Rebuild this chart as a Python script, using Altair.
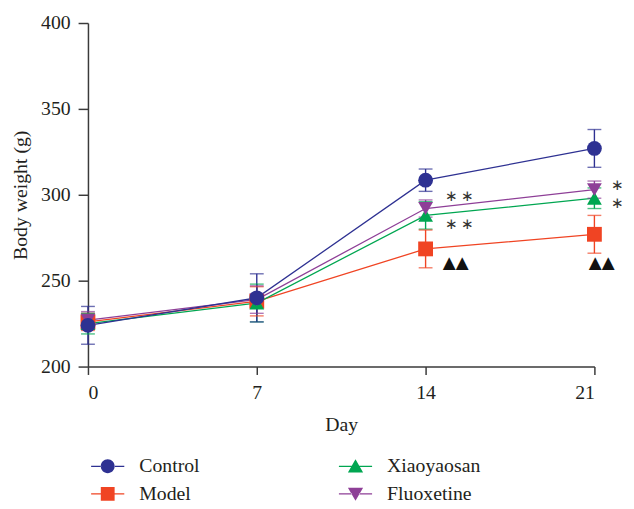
import altair as alt
import pandas as pd

days = [0, 7, 14, 21]

control_mean = [224, 240, 308.5, 327]
control_sd = [11, 14, 6.5, 11]
model_mean = [226, 238, 268.5, 277]
model_sd = [5, 8.5, 11, 11]
xiao_mean = [225, 237, 288, 298]
xiao_sd = [6, 11, 8, 6]
fluox_mean = [227, 239, 292, 303]
fluox_sd = [5, 8, 5, 5]

legend_order = ["Control", "Model", "Xiaoyaosan", "Fluoxetine"]
colors = ["#2e3192", "#f04423", "#00a651", "#8e3f97"]
shapes = ["circle", "square", "triangle-up", "triangle-down"]
SEG = "M-2.4,-0.09H{a}V0.09H-2.4Z M{b},-0.09H2.4V0.09H{b}Z "
legend_paths = [
    SEG.format(a=-0.95, b=0.95) + "M-1,0A1,1 0 1,0 1,0A1,1 0 1,0 -1,0Z",
    SEG.format(a=-0.95, b=0.95) + "M-1,-1H1V1H-1Z",
    SEG.format(a=-0.5, b=0.5) + "M0,-1L1.1,0.9L-1.1,0.9Z",
    SEG.format(a=-0.5, b=0.5) + "M0,1L1.1,-0.9L-1.1,-0.9Z",
]

star_day = [15.4, 15.4, 22.3, 22.3]
star_value = [299, 283, 305.5, 295]
star_text = ["∗ ∗", "∗ ∗", "∗ ∗", "∗ ∗"]
tri_day = [15.25, 21.3]
tri_value = [260, 260]
tri_text = ["▲▲", "▲▲"]

series = {
    "Model": (model_mean, model_sd),
    "Xiaoyaosan": (xiao_mean, xiao_sd),
    "Fluoxetine": (fluox_mean, fluox_sd),
    "Control": (control_mean, control_sd),
}
rows = []
for i, (g, (m, s)) in enumerate(series.items()):
    for d, mv, sv in zip(days, m, s):
        rows.append({"Day": d, "Group": g, "Mean": mv, "Lo": mv - sv, "Hi": mv + sv, "ord": i})
df = pd.DataFrame(rows)
stars = pd.DataFrame({"Day": star_day, "Value": star_value, "Text": star_text})
tris = pd.DataFrame({"Day": tri_day, "Value": tri_value, "Text": tri_text})

FONT = "Liberation Serif"
TXT = "#231f20"

xs = alt.Scale(domain=[0, 21], nice=False, zero=False)
ys = alt.Scale(domain=[200, 400], nice=False, zero=False)
cscale = alt.Scale(domain=legend_order, range=colors)

x_enc = alt.X("Day:Q", scale=xs, axis=alt.Axis(values=days, title="Day", tickSize=8,
                                                 labelPadding=8, titlePadding=13,
                                                 labelFont=FONT, titleFont=FONT))
y_enc = alt.Y("Mean:Q", scale=ys, axis=alt.Axis(values=[200, 250, 300, 350, 400],
                                                  title="Body weight (g)", tickSize=10,
                                                  labelPadding=8, titlePadding=10,
                                                  labelFont=FONT, titleFont=FONT))
col_nol = alt.Color("Group:N", scale=cscale, legend=None)

base = alt.Chart(df)

lines = base.mark_line(strokeWidth=1.3).encode(
    x=x_enc, y=y_enc, color=col_nol, detail="Group:N", order="Day:Q")

err = base.mark_rule(strokeWidth=1.4).encode(
    x="Day:Q", y=alt.Y("Lo:Q", scale=ys), y2="Hi:Q", color=col_nol)

cap_lo = base.mark_tick(orient="horizontal", size=14, thickness=1.4).encode(
    x="Day:Q", y=alt.Y("Lo:Q", scale=ys), color=col_nol)
cap_hi = base.mark_tick(orient="horizontal", size=14, thickness=1.4).encode(
    x="Day:Q", y=alt.Y("Hi:Q", scale=ys), color=col_nol)

pts = base.mark_point(filled=True, opacity=1, size=225).encode(
    x="Day:Q", y="Mean:Q", color=col_nol,
    shape=alt.Shape("Group:N", scale=alt.Scale(domain=legend_order, range=shapes), legend=None),
    order="ord:Q")

star_marks = alt.Chart(stars).mark_text(font=FONT, fontSize=15, color="#333333",
                                        baseline="middle").encode(
    x="Day:Q", y=alt.Y("Value:Q", scale=ys), text="Text:N")
tri_marks = alt.Chart(tris).mark_text(font="DejaVu Sans", fontSize=17, color="#111111",
                                      baseline="middle").encode(
    x="Day:Q", y=alt.Y("Value:Q", scale=ys), text="Text:N")

leg = base.transform_filter("false").mark_point(filled=True, opacity=1, size=196).encode(
    x="Day:Q", y="Mean:Q",
    color=alt.Color("Group:N", scale=cscale,
                    legend=alt.Legend(title=None, orient="none", legendX=10, legendY=439,
                                      columns=2, columnPadding=140, rowPadding=8,
                                      symbolSize=196, labelOffset=22, padding=0,
                                      labelFont=FONT, labelFontSize=20, labelColor=TXT)),
    shape=alt.Shape("Group:N", scale=alt.Scale(domain=legend_order, range=legend_paths)),
)

chart = alt.layer(lines, err, cap_lo, cap_hi, pts, star_marks, tri_marks, leg).resolve_scale(
    color="independent", shape="independent"
).properties(
    width=513, height=348, autosize="none",
    padding={"left": 81, "top": 12, "right": 32, "bottom": 136},
).configure_view(stroke=None).configure_axis(
    grid=False, domainColor="#3a3a3a", domainWidth=1.5, tickColor="#3a3a3a", tickWidth=1.5,
    labelFont=FONT, labelFontSize=20, labelColor=TXT, titleFont=FONT, titleFontSize=20,
    titleFontWeight="normal", titleColor=TXT,
).configure_legend(labelFont=FONT, labelFontSize=20, labelColor=TXT)

chart.save("out.html", embed_options={"renderer": "svg", "actions": False})
